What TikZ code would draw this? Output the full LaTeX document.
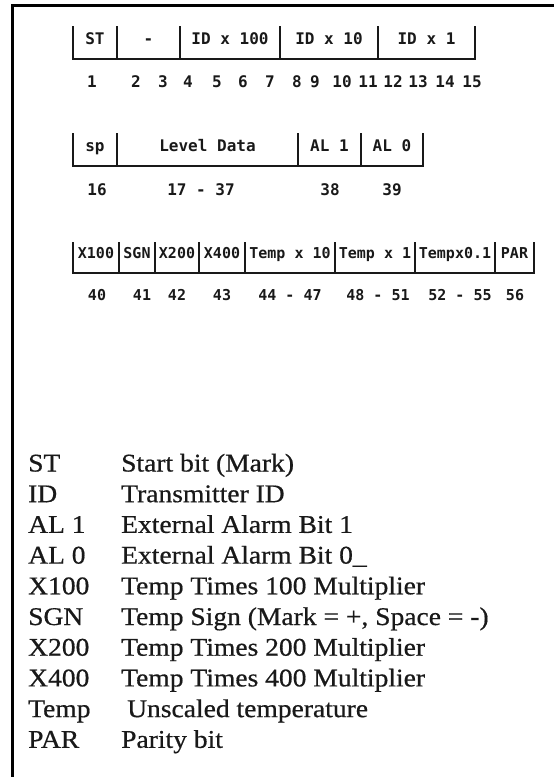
\documentclass[tikz,border=0pt]{standalone}
\usepackage{fontspec}
\usepackage{tikz}
\usetikzlibrary{positioning}
\newfontfamily\cellfont{DejaVu Sans Mono}
\newfontfamily\legendfont[FakeStretch=1.08,FakeBold=0.6]{Liberation Serif}
\definecolor{inkblack}{RGB}{25,25,25}

\begin{document}
\begin{tikzpicture}[
    x=1pt,y=-1pt,
    node distance=0pt,
    cell/.style={rectangle,inner sep=0pt,outer sep=0pt,minimum height=33pt,
      text height=12pt,text depth=9pt,text=inkblack,
      font=\cellfont\bfseries\fontsize{16}{16}\selectfont},
    cellsm/.style={cell,minimum height=31pt,text height=11pt,
      font=\cellfont\bfseries\fontsize{15}{15}\selectfont},
    num/.style={inner sep=0pt,text=inkblack,
      font=\cellfont\bfseries\fontsize{16}{16}\selectfont},
    numsm/.style={num,font=\cellfont\bfseries\fontsize{15}{15}\selectfont},
    key/.style={anchor=base west,inner sep=0pt,text=inkblack,
      font=\legendfont\fontsize{25.5}{25.5}\selectfont},
    rule/.style={draw=inkblack,line width=1.8pt},
    frame/.style={draw=black,line width=3pt}
  ]
    \useasboundingbox (0,0) rectangle (554,777);
    \draw[frame] (12,777) -- (12,5) -- (554,5);

    % bits 1 - 15
    \node[cell,minimum width=44pt] (st) at (95,42.5) {ST};
    \node[cell,minimum width=63pt,right=of st] (spare) {-};
    \node[cell,minimum width=100pt,right=of spare] (idh) {ID x 100};
    \node[cell,minimum width=98pt,right=of idh] (idt) {ID x 10};
    \node[cell,minimum width=97pt,right=of idt] (ido) {ID x 1};
    \draw[rule] (st.north west) |- (ido.south east) -- (ido.north east);
    \foreach \c in {spare,idh,idt,ido}
      \draw[rule] (\c.north west) -- (\c.south west);
    \foreach \n/\x in {1/92,2/136,3/163,4/188,5/217,6/243,7/270,8/297,
        9/315,10/342,11/368,12/393,13/418,14/445,15/472}
      \node[num] (bit\n) at (\x,82) {\n};

    % bits 16 - 39
    \node[cell,minimum width=44pt] (sp) at (95,149.5) {sp};
    \node[cell,minimum width=181pt,right=of sp] (level) {Level Data};
    \node[cell,minimum width=63pt,right=of level] (alone) {AL 1};
    \node[cell,minimum width=62pt,right=of alone] (alzero) {AL 0};
    \draw[rule] (sp.north west) |- (alzero.south east) -- (alzero.north east);
    \foreach \c in {level,alone,alzero}
      \draw[rule] (\c.north west) -- (\c.south west);
    \node[num] (bitsp) at (97,190) {16};
    \node[num] (bitlevel) at (201,190) {17 - 37};
    \node[num] (bitalone) at (330,190) {38};
    \node[num] (bitalzero) at (392,190) {39};

    % bits 40 - 56
    \node[cellsm,minimum width=46pt] (xone) at (96,257.5) {X100};
    \node[cellsm,minimum width=36pt,right=of xone] (sgn) {SGN};
    \node[cellsm,minimum width=44pt,right=of sgn] (xtwo) {X200};
    \node[cellsm,minimum width=46pt,right=of xtwo] (xfour) {X400};
    \node[cellsm,minimum width=90pt,right=of xfour] (tten) {Temp x 10};
    \node[cellsm,minimum width=80pt,right=of tten] (tone) {Temp x 1};
    \node[cellsm,minimum width=80pt,right=of tone] (ttenth) {Tempx0.1};
    \node[cellsm,minimum width=39pt,right=of ttenth] (par) {PAR};
    \draw[rule] (xone.north west) |- (par.south east) -- (par.north east);
    \foreach \c in {sgn,xtwo,xfour,tten,tone,ttenth,par}
      \draw[rule] (\c.north west) -- (\c.south west);
    \foreach \n/\x in {40/97,41/142,42/177,43/222,44 - 47/290,
        48 - 51/378,52 - 55/460,56/515}
      \node[numsm] at (\x,295) {\n};

    % legend
    \foreach \abbr/\expl [count=\i from 0] in {ST/Start bit (Mark),
        ID/Transmitter ID,AL 1/External Alarm Bit 1,AL 0/External Alarm Bit 0\_,
        X100/Temp Times 100 Multiplier,SGN/{Temp Sign (Mark = +, Space = -)},
        X200/Temp Times 200 Multiplier,X400/Temp Times 400 Multiplier,
        Temp/\hspace{6pt}Unscaled temperature,PAR/Parity bit} {
      \node[key] (key\i) at (28,{471.5+30.7*\i}) {\abbr};
      \node[key] (expl\i) at (121,{471.5+30.7*\i}) {\expl};
    }
  \end{tikzpicture}
\end{document}
